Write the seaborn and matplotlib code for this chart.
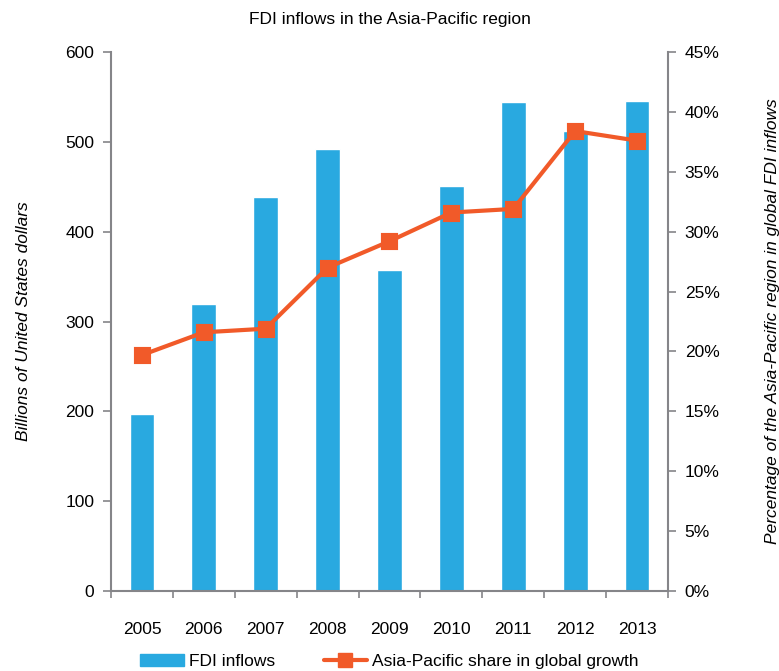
import matplotlib
matplotlib.use("Agg")
import matplotlib.pyplot as plt
from matplotlib.patches import Patch
from matplotlib.lines import Line2D
from matplotlib.ticker import FixedLocator, PercentFormatter
import seaborn as sns
import pandas as pd

years = ["2005", "2006", "2007", "2008", "2009", "2010", "2011", "2012", "2013"]
fdi_inflows = [197, 320, 439, 492, 357, 451, 544, 512, 546]
global_share = [19.7, 21.6, 21.9, 27.0, 29.2, 31.6, 31.9, 38.4, 37.6]

bar_color = "#29A9E0"
line_color = "#F15A29"
spine_color = "#858589"

sns.set_style("white")
plt.rcParams["font.family"] = ["Liberation Sans", "DejaVu Sans"]
plt.rcParams["text.color"] = "black"
plt.rcParams["axes.labelcolor"] = "black"

df = pd.DataFrame({"year": years, "fdi": fdi_inflows, "share": global_share})

fig = plt.figure(figsize=(7.79, 6.71), dpi=100)
ax = fig.add_axes([0.1425, 0.1192, 0.715, 0.8033])

sns.barplot(data=df, x="year", y="fdi", color=bar_color, saturation=1, width=0.4, ax=ax)
ax.set_ylim(0, 600)
ax.set_yticks(range(0, 601, 100))
ax.set_xlim(-0.5, len(years) - 0.5)

ax2 = ax.twinx()
sns.pointplot(data=df, x="year", y="share", color=line_color, markers="s",
              markersize=10, linewidth=3, ax=ax2)
ax2.set_ylim(0, 45)
ax2.set_yticks(range(0, 46, 5))
ax2.yaxis.set_major_formatter(PercentFormatter(decimals=0))
ax2.set_xlim(-0.5, len(years) - 0.5)

for a in (ax, ax2):
    for s in a.spines.values():
        s.set_color(spine_color)
        s.set_linewidth(1.5)
    a.spines["top"].set_visible(False)
    a.set_xlabel("")

ax.spines["right"].set_visible(False)
ax2.spines["left"].set_visible(False)
ax2.spines["bottom"].set_visible(False)

ax.tick_params(axis="y", direction="out", length=6, width=1.2, color=spine_color,
               labelcolor="black", labelsize=12.5, pad=6, left=True)
ax2.tick_params(axis="y", direction="out", length=6, width=1.2, color=spine_color,
                labelcolor="black", labelsize=12.5, pad=6, right=True)
ax.tick_params(axis="x", which="major", length=0, labelcolor="black", labelsize=12.5, pad=22)
ax.xaxis.set_minor_locator(FixedLocator([i - 0.5 for i in range(len(years) + 1)]))
ax.tick_params(axis="x", which="minor", direction="out", length=5, width=1.2,
               color=spine_color, bottom=True)

ax.set_ylabel("Billions of United States dollars", fontsize=12.5, style="italic", labelpad=25)
ax2.set_ylabel("Percentage of the Asia-Pacific region in global FDI inflows",
               fontsize=12.5, style="italic", labelpad=33)
ax.set_title("FDI inflows in the Asia-Pacific region", fontsize=12.5, pad=20)

handles = [
    Patch(facecolor=bar_color, edgecolor=bar_color, label="FDI inflows"),
    Line2D([], [], color=line_color, linewidth=3, marker="s", markersize=10,
           label="Asia-Pacific share in global growth"),
]
fig.legend(handles=handles, loc="lower center", bbox_to_anchor=(0.5, -0.02), ncol=2,
           frameon=False, fontsize=12.5, handlelength=2.5, columnspacing=2.8,
           handletextpad=0.3)

fig.savefig("out.png", dpi=100, facecolor="white")
